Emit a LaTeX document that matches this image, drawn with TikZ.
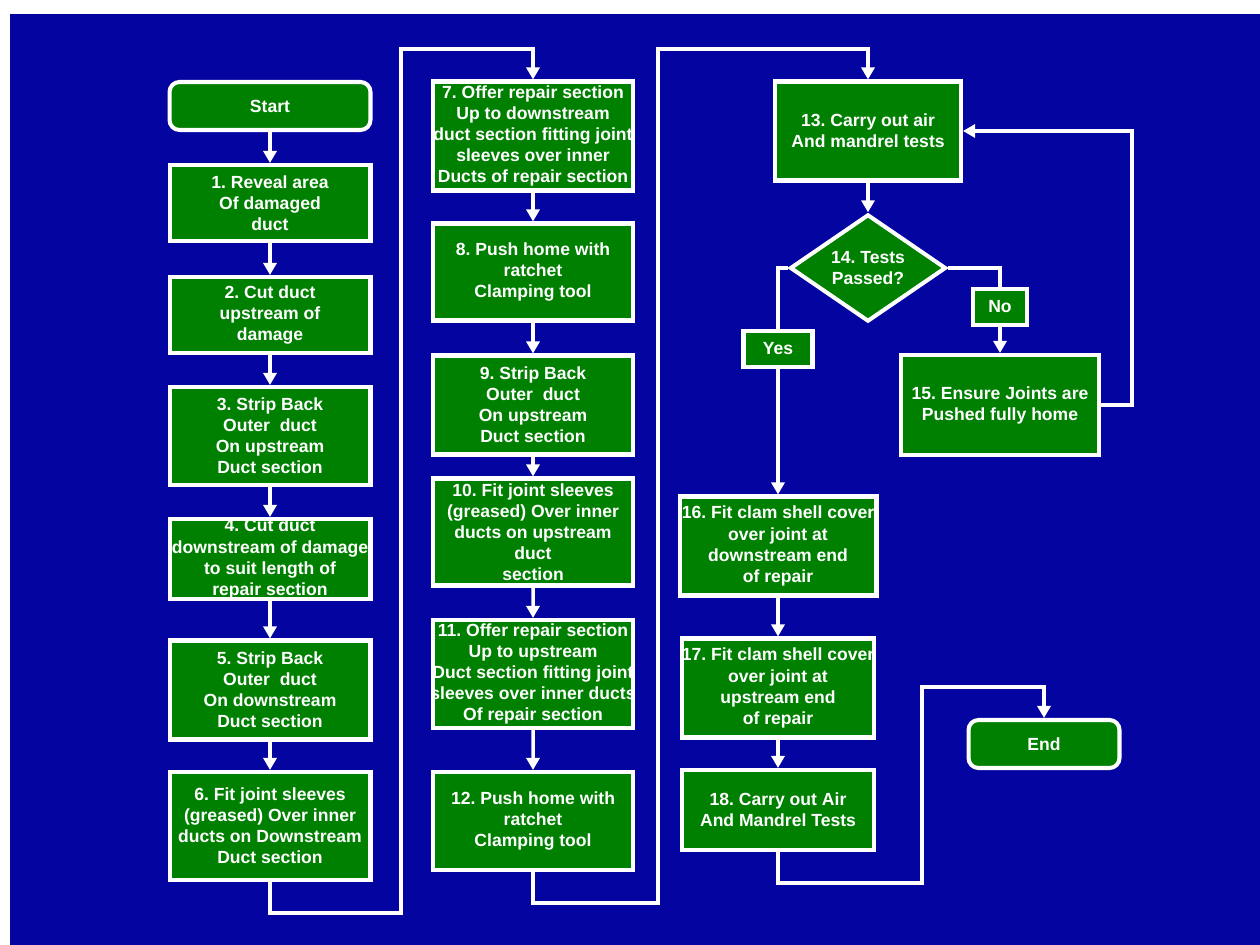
\documentclass[tikz,border=0pt]{standalone}
\usepackage{fontspec}
\setmainfont{Liberation Sans}
\usetikzlibrary{arrows.meta,shapes.geometric,positioning}
\definecolor{slide}{RGB}{4,4,160}
\definecolor{boxgreen}{RGB}{0,128,0}

\begin{document}
\begin{tikzpicture}[x=0.02cm,y=-0.02cm,
    >={Triangle[length=0.24cm,width=0.26cm]},
    font=\bfseries\fontsize{10}{12}\selectfont\frenchspacing,
    stepbox/.style={draw=white,line width=2.3pt,fill=boxgreen,text=white,
      align=center,inner sep=0pt,minimum width=4.02cm},
    termbox/.style={stepbox,rounded corners=0.2cm,minimum height=0.96cm},
    decision/.style={stepbox,diamond,minimum width=3.12cm,minimum height=1.76cm},
    tag/.style={stepbox,minimum height=0.72cm},
    flow/.style={draw=white,line width=2pt}]
  % slide background
  \fill[white] (0,0) rectangle (1260,945);
  \fill[slide] (10,14) rectangle (1260,945);
  \useasboundingbox (0,0) rectangle (1260,945);
  % first column
  \node[termbox] (start) at (270,106) {Start};
  \node[stepbox,minimum height=1.52cm] (s1) at (270,203) {1. Reveal area\\Of damaged\\duct};
  \node[stepbox,minimum height=1.52cm] (s2) at (270,315) {2. Cut duct\\upstream of\\damage};
  \node[stepbox,minimum height=1.96cm] (s3) at (270,436) {3. Strip Back\\Outer~ duct\\On upstream\\Duct section};
  \node[stepbox,minimum height=1.6cm] (s4) at (270,559) {4. Cut duct\\downstream of damage\\to suit length of\\repair section};
  \node[stepbox,minimum height=1.98cm] (s5) at (270,690) {5. Strip Back\\Outer~ duct\\On downstream\\Duct section};
  \node[stepbox,minimum height=2.16cm] (s6) at (270,826) {6. Fit joint sleeves\\(greased) Over inner\\ducts on Downstream\\Duct section};
  % second column
  \node[stepbox,minimum width=4.0cm,minimum height=2.18cm,inner xsep=-3pt] (s7) at (533,136) {7. Offer repair section\\Up to downstream\\duct section fitting joint\\sleeves over inner\\Ducts of repair section};
  \node[stepbox,minimum width=4.0cm,minimum height=1.94cm] (s8) at (533,272) {8. Push home with\\ratchet\\Clamping tool};
  \node[stepbox,minimum width=4.0cm,minimum height=1.98cm] (s9) at (533,405) {9. Strip Back\\Outer~ duct\\On upstream\\Duct section};
  \node[stepbox,minimum width=4.0cm,minimum height=2.14cm] (s10) at (533,532) {10. Fit joint sleeves\\(greased) Over inner\\ducts on upstream\\duct\\section};
  \node[stepbox,minimum width=4.0cm,minimum height=2.16cm,inner xsep=-3pt] (s11) at (533,674) {11. Offer repair section\\Up to upstream\\Duct section fitting joint\\sleeves over inner ducts\\Of repair section};
  \node[stepbox,minimum width=4.0cm,minimum height=1.96cm] (s12) at (533,821) {12. Push home with\\ratchet\\Clamping tool};
  % test loop
  \node[stepbox,minimum width=3.72cm,minimum height=1.98cm] (s13) at (868,131) {13. Carry out air\\And mandrel tests};
  \node[decision] (q14) at (868,268) {14. Tests\\Passed?};
  \node[tag,minimum width=1.38cm] (yes) at (778,349) {Yes};
  \node[tag,minimum width=1.08cm] (no) at (1000,307) {No};
  \node[stepbox,minimum width=3.96cm,minimum height=2.0cm] (s15) at (1000,405) {15. Ensure Joints are\\Pushed fully home};
  % last column
  \node[stepbox,minimum width=3.94cm,minimum height=1.98cm,inner xsep=-3pt] (s16) at (778,546) {16. Fit clam shell cover\\over joint at\\downstream end\\of repair};
  \node[stepbox,minimum width=3.84cm,minimum height=1.98cm,inner xsep=-3pt] (s17) at (778,688) {17. Fit clam shell cover\\over joint at\\upstream end\\of repair};
  \node[stepbox,minimum width=3.84cm,minimum height=1.6cm] (s18) at (778,810) {18. Carry out Air\\And Mandrel Tests};
  \node[termbox,minimum width=3.02cm] (end) at (1044,744) {End};
  % turning points
  \coordinate (c1) at (401,913);
  \coordinate (c2) at (401,49);
  \coordinate (c3) at (658,903);
  \coordinate (c4) at (658,49);
  \coordinate (c5) at (1132,131);
  \coordinate (c6) at (922,883);
  \coordinate (c7) at (922,687);
  % connectors
  \foreach \a/\b in {start/s1,s1/s2,s2/s3,s3/s4,s4/s5,s5/s6,
                     s7/s8,s8/s9,s9/s10,s10/s11,s11/s12,
                     s13/q14,s16/s17,s17/s18}
     \draw[flow,->] (\a) -- (\b);
  \draw[flow,->] (s6.south) |- (c1) -- (c2) -| (s7.north);
  \draw[flow,->] (s12.south) |- (c3) -- (c4) -| (s13.north);
  \draw[flow] (q14.west) -| (yes.north);
  \draw[flow,->] (yes.south) -- (s16.north);
  \draw[flow] (q14.east) -| (no.north);
  \draw[flow,->] (no.south) -- (s15.north);
  \draw[flow,->] (s15.east) -| (c5) -- (s13.east);
  \draw[flow,->] (s18.south) |- (c6) -- (c7) -| (end.north);
\end{tikzpicture}
\end{document}
